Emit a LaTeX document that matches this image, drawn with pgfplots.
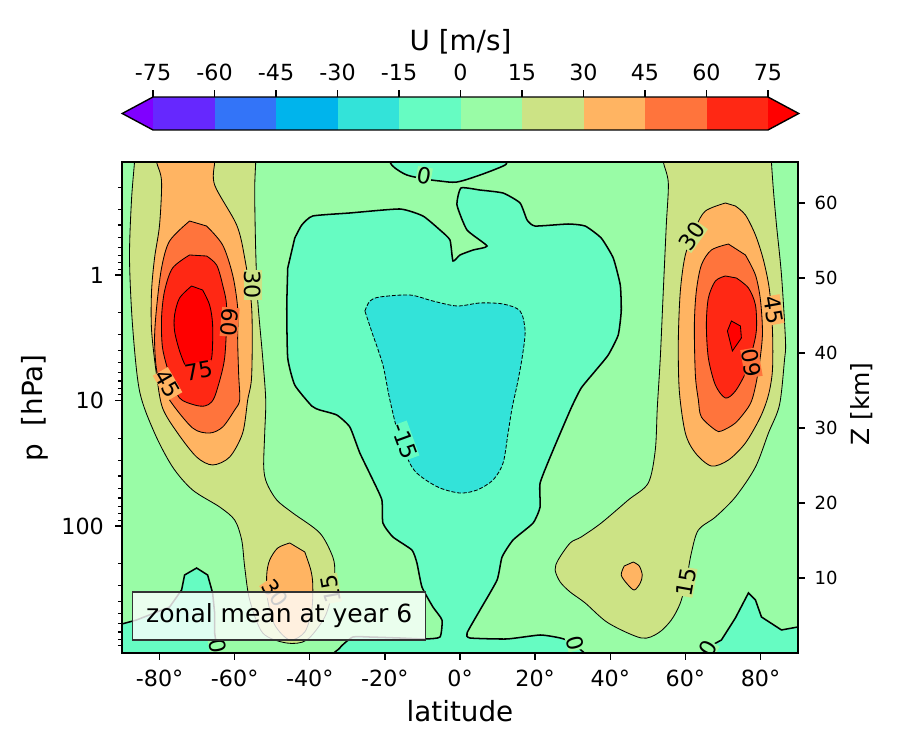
\documentclass[border=0pt]{standalone}
\usepackage{pgfplots}
\pgfplotsset{compat=1.18}
\usepackage{fontspec}
\setmainfont{DejaVu Sans}
\setsansfont{DejaVu Sans}
\definecolor{cmin}{RGB}{128,0,255}
\definecolor{c0}{RGB}{102,40,254}
\definecolor{c1}{RGB}{51,116,248}
\definecolor{c2}{RGB}{0,180,236}
\definecolor{c3}{RGB}{51,227,217}
\definecolor{c4}{RGB}{102,252,194}
\definecolor{c5}{RGB}{153,252,166}
\definecolor{c6}{RGB}{204,227,133}
\definecolor{c7}{RGB}{255,180,98}
\definecolor{c8}{RGB}{255,116,60}
\definecolor{c9}{RGB}{255,40,20}
\definecolor{cmax}{RGB}{255,0,0}
\newcommand{\fs}[1]{\fontsize{#1}{#1}\selectfont}
\pgfplotsset{/pgf/number format/assume math mode=true}
\begin{document}
\begin{tikzpicture}
\path[use as bounding box] (0,0) rectangle (648pt,540pt);
% ---------------- main axis ----------------
\begin{axis}[name=main, at={(87.84pt,69.84pt)}, anchor=south west, scale only axis,
  width=486.72pt, height=353.52pt, xmin=-90, xmax=90, ymin=0, ymax=65.47,
  axis on top, no markers, axis background/.style={fill=c5},
  axis line style={line width=1.2pt},
  tick align=outside, xtick pos=left, ytick pos=left,
  major tick length=5pt, minor tick length=3pt,
  every tick/.style={black, line width=0.9pt},
  xtick={-80,-60,-40,-20,0,20,40,60,80},
  xticklabels={-80°,-60°,-40°,-20°,0°,20°,40°,60°,80°},
  ytick={16.93,33.67,50.4}, yticklabels={100,10,1},
  minor ytick={62.09,59.15,57.06,55.44,54.11,52.99,52.02,51.17,45.36,42.42,40.33,38.71,37.38,36.26,35.29,34.44,28.63,25.69,23.60,21.98,20.65,19.53,18.56,17.71,11.90,8.96,6.87,5.25,3.92,2.80,1.83,0.98},
  tick label style={font=\fs{16}},
  xticklabel style={yshift=-3.5pt},
  yticklabel style={xshift=-4.5pt},
  clip=true]
% -15..0 regions (0 contour)
\addplot[fill=c4, draw=black, line width=1.1pt, sharp plot] coordinates {(-92,-2)(-92,3.8)(-90,3.87)(-86.13,4.4)(-77.33,6.13)(-74.13,8.4)(-73.33,10.4)(-70.13,11.33)(-67.2,10.4)(-65.87,8.0)(-65.33,5.33)(-65.33,2.67)(-64.53,0)(-64.3,-2)} -- cycle;
\addplot[fill=c4, draw=black, line width=1.1pt, sharp plot] coordinates {(65.8,-2)(66.13,0)(67.2,1.07)(69.6,1.73)(73.33,4.67)(76.8,8.0)(78.67,7.07)(80.27,4.8)(85.6,3.07)(90,3.47)(92,3.6)(92,-2)} -- cycle;
\addplot[fill=c4, draw=black, line width=1.1pt, smooth, tension=0.3] coordinates {(-44.0,55.33)(-42.13,57.07)(-39.2,58.27)(-29.33,58.67)(-16,59.2)(-9.87,58.27)(-5.33,56.4)(-2.67,55.07)(-1.87,52.27)(0,53.07)(3.47,53.73)(7.2,54.27)(1.87,56.4)(-0.8,59.73)(0.27,62.0)(5.33,61.73)(11.47,61.33)(16,60.0)(17.87,57.73)(20,56.93)(28.8,57.2)(33.33,56.93)(37.6,55.33)(40.8,52.67)(42.67,49.07)(42.93,45.6)(42.13,42.4)(39.47,39.73)(36,37.6)(32.27,35.33)(29.6,32.67)(24.8,27.07)(21.33,22.67)(21.33,19.47)(19.47,17.33)(14.13,15.07)(11.2,12.8)(9.87,9.73)(5.33,5.73)(1.87,2.67)(2.67,2.0)(12.53,1.87)(21.33,2.4)(26.67,2.0)(29.87,1.33)(33.5,-2)(-34,-2)(-32,0.67)(-28.53,2.13)(-24,2.13)(-16,2.0)(-9.33,1.87)(-5.33,2.13)(-4.8,4.4)(-7.2,6.13)(-10.13,8.8)(-11.47,12.0)(-12.8,13.73)(-17.87,15.47)(-20.53,17.33)(-20.8,20.4)(-23.2,23.07)(-26.67,26.67)(-29.33,30.13)(-32.8,31.73)(-37.33,32.4)(-39.47,32.93)(-44,35.73)(-45.87,39.33)(-46.13,46.0)(-45.87,51.33)} -- cycle;
\addplot[fill=c4, draw=black, line width=1.1pt, smooth, tension=0.5] coordinates {(-19.2,67)(-18.67,65.47)(-17.33,64.67)(-14.13,63.73)(-9.33,63.2)(-5.33,62.93)(-0.8,62.8)(5.33,63.73)(11.47,64.93)(12.53,65.47)(12.9,67)} -- cycle;
% -30..-15 (dashed)
\addplot[fill=c3, draw=black, line width=0.6pt, dash pattern=on 2.8pt off 1.3pt, smooth, tension=0.5] coordinates {(-25.33,45.6)(-24,46.93)(-21.33,47.47)(-13.33,47.73)(-7.2,46.93)(-0.8,46.27)(5.33,46.67)(11.47,46.53)(16,45.6)(17.33,42.93)(16.53,39.33)(15.2,35.73)(13.87,32.67)(12.8,29.33)(11.47,25.33)(8.8,23.07)(4.53,21.73)(0,21.33)(-5.33,22.0)(-9.87,23.33)(-12.8,24.8)(-16,28.4)(-18.67,33.73)(-20.53,38.4)(-23.2,42.4)} -- cycle;
% left jet
\addplot[fill=c6, draw=black, line width=0.6pt, smooth, tension=0.5] coordinates {(-86.6,67)(-86.67,65.47)(-87.47,60.4)(-88,52.67)(-87.2,43.73)(-85.33,34.93)(-81.33,29.33)(-76.53,24.8)(-71.2,21.73)(-64,19.47)(-60,17.73)(-58.13,15.07)(-57.33,11.47)(-56,7.07)(-52.53,2.67)(-46.13,1.33)(-40.8,1.73)(-36,4.8)(-33.87,8.4)(-33.33,10.67)(-33.87,12.8)(-37.33,16.0)(-44.53,18.67)(-48.8,20.4)(-51.47,22.67)(-52.27,24.8)(-52,29.33)(-51.73,33.73)(-52.53,39.33)(-53.87,47.07)(-54.4,53.73)(-54.67,61.6)(-54.4,65.47)(-54.4,67)} -- cycle;
\addplot[fill=c7, draw=black, line width=0.6pt, smooth, tension=0.5] coordinates {(-80.8,67)(-80.8,65.47)(-79.47,62.93)(-80,57.07)(-81.33,52.67)(-82.13,48.27)(-82.13,43.07)(-80.8,37.07)(-79.2,32.67)(-75.2,29.33)(-70.13,26.13)(-65.87,25.07)(-61.33,26.13)(-57.87,29.33)(-56.53,33.73)(-55.47,37)(-55.47,46.0)(-57.33,52.67)(-59.47,57.07)(-65.33,62.4)(-65.33,65.47)(-65.33,67)} -- cycle;
\addplot[fill=c8, draw=black, line width=0.6pt, smooth, tension=0.5] coordinates {(-72,57.6)(-77.33,54.93)(-79.47,51.33)(-80.8,46.0)(-81.33,41.6)(-80.53,37.07)(-77.33,33.73)(-71.2,30.0)(-66.67,29.33)(-63.2,30.13)(-60,32.4)(-58.67,33.73)(-58.93,37.07)(-59.2,41.6)(-59.2,46.0)(-60.53,50.4)(-63.2,54.4)(-67.47,56.93)} -- cycle;
\addplot[fill=c9, draw=black, line width=0.6pt, smooth, tension=0.5] coordinates {(-72,53.07)(-76.53,51.33)(-78.67,48.27)(-79.47,44.67)(-79.2,40.67)(-77.33,37.07)(-74.67,34.0)(-70.67,33.07)(-68,32.93)(-66.13,33.47)(-64.8,34.93)(-62.67,39.33)(-62.13,46.0)(-63.2,49.07)(-64.8,51.73)(-67.47,52.93)} -- cycle;
\addplot[fill=cmax, draw=black, line width=0.6pt, smooth, tension=0.5] coordinates {(-71.47,48.93)(-74.67,47.33)(-76,45.07)(-76,42.93)(-74.67,40.27)(-72.8,38.0)(-70.67,37.2)(-68,37.73)(-66.13,39.33)(-65.87,43.73)(-66.67,46.4)(-68.53,48.4)} -- cycle;
\addplot[fill=c7, draw=black, line width=0.6pt, smooth, tension=0.5] coordinates {(-45.33,14.67)(-48.53,14.0)(-50.67,12.4)(-51.47,10.4)(-51.2,7.07)(-49.33,3.73)(-45.33,1.73)(-41.33,2.8)(-39.47,5.73)(-39.2,9.07)(-39.73,11.07)(-41.33,13.47)} -- cycle;
% right jet
\addplot[fill=c6, draw=black, line width=0.6pt, smooth, tension=0.5] coordinates {(54.13,67)(54.13,65.47)(55.47,62.67)(54.93,57.07)(54.13,48.27)(53.33,39.33)(52.53,32.67)(52,27.07)(50.13,22.67)(44.8,20.4)(37.6,17.33)(32.27,15.47)(29.33,14.67)(26.13,12.4)(25.33,11.07)(26.67,9.47)(29.33,8.13)(33.33,6.67)(39.47,4.0)(48.27,2.0)(52.8,2.67)(56.27,4.4)(58.67,6.67)(60.27,9.73)(61.6,13.33)(63.47,16.4)(68,18.13)(73.33,20.8)(78.67,24.8)(82.13,29.33)(85.07,33.07)(86.4,39.07)(86.67,41.6)(85.6,50.4)(84.27,57.07)(83.47,61.6)(82.93,65.47)(82.93,67)} -- cycle;
\addplot[fill=c7, draw=black, line width=0.6pt, smooth, tension=0.5] coordinates {(46.13,12.13)(47.73,11.6)(48.53,10.4)(48,9.33)(46.4,8.4)(44.53,9.2)(42.93,10.4)(43.73,11.6)} -- cycle;
\addplot[fill=c7, draw=black, line width=0.6pt, smooth, tension=0.5] coordinates {(70.67,60.0)(65.33,58.93)(62.67,56.67)(60,53.07)(58.67,48.27)(58.13,41.6)(58.4,34.93)(60,29.33)(62.67,26.67)(66.93,24.93)(71.47,25.73)(76,28.0)(80,31.47)(82.13,34.4)(83.2,37.73)(83.2,43.07)(82.4,48.4)(80.8,52.4)(78.67,55.73)(76,58.4)(73.33,59.6)} -- cycle;
\addplot[fill=c8, draw=black, line width=0.6pt, smooth, tension=0.5] coordinates {(71.47,54.53)(66.93,53.73)(64.27,51.73)(62.93,48.27)(62.4,43.73)(62.67,37.07)(63.47,33.73)(64.27,31.47)(68,29.73)(69.6,29.6)(73.33,30.67)(76.8,32.8)(78.13,34.4)(79.47,37.73)(80.53,42.4)(80,47.07)(78.67,50.4)(76,53.07)} -- cycle;
\addplot[fill=c9, draw=black, line width=0.6pt, smooth, tension=0.5] coordinates {(70.67,50.27)(68,49.6)(66.13,47.33)(65.6,43.73)(66.13,39.33)(68,35.73)(70.67,34.0)(73.33,34.93)(76.27,37.6)(77.87,40.4)(78.93,43.07)(78.67,46.4)(76.8,48.67)(73.6,50.0)} -- cycle;
\addplot[fill=cmax, draw=black, line width=0.6pt, sharp plot] coordinates {(72.27,44.27)(74.67,43.6)(74.93,42.0)(72.53,40.27)(71.2,42.93)} -- cycle;
% contour labels
\begin{scope}[every node/.style={font=\fs{16}, inner sep=0.3pt}]
\node[fill=c5, rotate=-10] at (axis cs:-9.6,63.6) {0};
\node[fill=c6, rotate=-90] at (axis cs:-55.2,49.07) {30};
\node[fill=c8, rotate=-95] at (axis cs:-61.33,44.13) {60};
\node[fill=c9, rotate=10] at (axis cs:-69.6,37.6) {75};
\node[fill=c7, rotate=-60] at (axis cs:-77.87,35.87) {45};
\node[fill=c4, rotate=-70] at (axis cs:-14.67,28.27) {-15};
\node[fill=c7, rotate=-55] at (axis cs:-49.33,8.0) {30};
\node[fill=c6, rotate=100] at (axis cs:-34.4,8.6) {15};
\node[fill=c5, rotate=-75] at (axis cs:30.67,1.33) {0};
\node[fill=c5, rotate=60] at (axis cs:66.13,0.6) {0};
\node[fill=c5, rotate=-80] at (axis cs:-64.53,0.9) {0};
\node[fill=c6, rotate=80] at (axis cs:60.27,9.47) {15};
\node[fill=c6, rotate=55] at (axis cs:61.87,55.6) {30};
\node[fill=c7, rotate=-80] at (axis cs:83.47,45.73) {45};
\node[fill=c8, rotate=100] at (axis cs:77.6,38.67) {60};
\end{scope}
% legend box
\node[fill=white, fill opacity=0.8, text opacity=1, draw=black!80, line width=1pt,
      minimum width=211pt, minimum height=34.6pt, inner sep=0pt, font=\fs{18}]
      at (axis cs:-48.13,4.93) {zonal mean at year 6};
\end{axis}
% ---------------- right axis (Z km) ----------------
\begin{axis}[at={(87.84pt,69.84pt)}, anchor=south west, scale only axis,
  width=486.72pt, height=353.52pt, xmin=-90, xmax=90, ymin=0, ymax=65.47,
  hide x axis, axis y line*=right, axis line style={line width=1.2pt},
  tick align=outside, major tick length=5pt,
  every tick/.style={black, line width=0.9pt},
  ytick={10,20,30,40,50,60}, yticklabels={10,20,30,40,50,60},
  tick label style={font=\fs{13}}, yticklabel style={xshift=3.5pt}]
\addplot[draw=none] coordinates {(0,0)};
\end{axis}
% ---------------- colorbar ----------------
\begin{axis}[at={(110.16pt,446.4pt)}, anchor=south west, scale only axis,
  width=442.8pt, height=23.76pt, xmin=-75, xmax=75, ymin=0, ymax=1,
  clip=false, no markers, axis line style={draw=none},
  ytick=\empty, xtick pos=right, xticklabel pos=right,
  tick align=outside, major tick length=5pt,
  every tick/.style={black, line width=0.9pt},
  xtick={-75,-60,-45,-30,-15,0,15,30,45,60,75},
  xticklabels={-75,-60,-45,-30,-15,0,15,30,45,60,75},
  tick label style={font=\fs{16}}, xticklabel style={yshift=3pt}]
\addplot[fill=cmin, draw=none] coordinates {(-82.5,0.5)(-75,0)(-75,1)} -- cycle;
\addplot[fill=c0, draw=none] coordinates {(-75,0)(-60,0)(-60,1)(-75,1)} -- cycle;
\addplot[fill=c1, draw=none] coordinates {(-60,0)(-45,0)(-45,1)(-60,1)} -- cycle;
\addplot[fill=c2, draw=none] coordinates {(-45,0)(-30,0)(-30,1)(-45,1)} -- cycle;
\addplot[fill=c3, draw=none] coordinates {(-30,0)(-15,0)(-15,1)(-30,1)} -- cycle;
\addplot[fill=c4, draw=none] coordinates {(-15,0)(0,0)(0,1)(-15,1)} -- cycle;
\addplot[fill=c5, draw=none] coordinates {(0,0)(15,0)(15,1)(0,1)} -- cycle;
\addplot[fill=c6, draw=none] coordinates {(15,0)(30,0)(30,1)(15,1)} -- cycle;
\addplot[fill=c7, draw=none] coordinates {(30,0)(45,0)(45,1)(30,1)} -- cycle;
\addplot[fill=c8, draw=none] coordinates {(45,0)(60,0)(60,1)(45,1)} -- cycle;
\addplot[fill=c9, draw=none] coordinates {(60,0)(75,0)(75,1)(60,1)} -- cycle;
\addplot[fill=cmax, draw=none] coordinates {(75,0)(82.5,0.5)(75,1)} -- cycle;
\addplot[draw=black, line width=1pt] coordinates {(-82.5,0.5)(-75,0)(75,0)(82.5,0.5)(75,1)(-75,1)} -- cycle;
\end{axis}
% ---------------- labels ----------------
\node[font=\fs{20}] at (331.2pt,28.1pt) {latitude};
\node[font=\fs{20}, rotate=90] at (25.2pt,246.2pt) {p\ \ [hPa]};
\node[font=\fs{18}, rotate=90] at (620.6pt,249.1pt) {Z [km]};
\node[font=\fs{20}] at (331.6pt,509.8pt) {U [m/s]};
\end{tikzpicture}
\end{document}
